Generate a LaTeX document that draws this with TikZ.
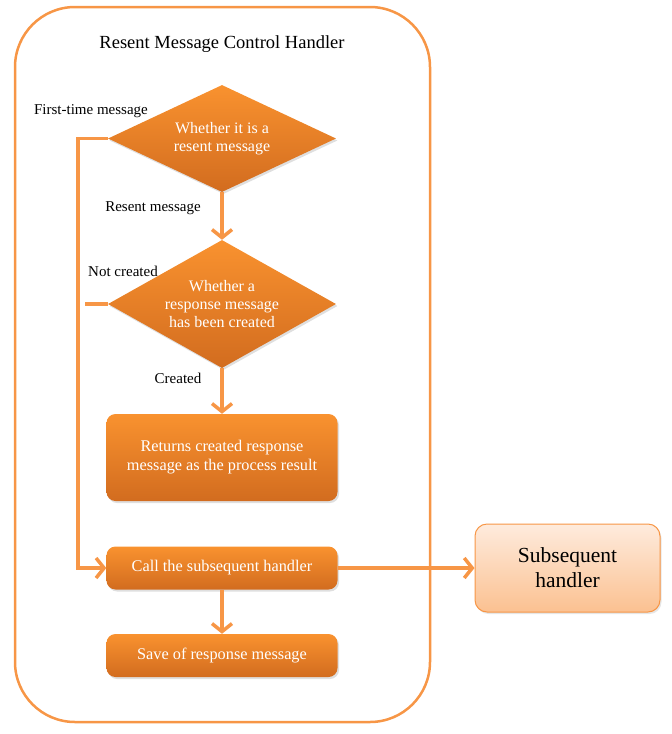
\documentclass[tikz,border=0pt]{standalone}
\usepackage{fontspec}
\setmainfont{Liberation Serif}
\usetikzlibrary{shapes.geometric,arrows.meta,shadows}
\definecolor{otop}{HTML}{F9922F}
\definecolor{obot}{HTML}{D26C1F}
\definecolor{oline}{HTML}{F79646}
\definecolor{ltop}{HTML}{FEEBDD}
\definecolor{lbot}{HTML}{FBC191}
\begin{document}
\begin{tikzpicture}[x=1pt,y=-1pt,
  procbox/.style={rectangle,rounded corners=9pt,top color=otop,bottom color=obot,draw=none,
    text=white,font=\fontsize{16.3}{19}\selectfont,align=center,inner sep=0pt,
    drop shadow={opacity=0.25,shadow xshift=1.5pt,shadow yshift=-2pt}},
  decide/.style={diamond,top color=otop,bottom color=obot,draw=none,text=white,
    font=\fontsize{16}{18}\selectfont,align=center,inner sep=0pt,
    drop shadow={opacity=0.25,shadow xshift=1.5pt,shadow yshift=-2pt}},
  flow/.style={draw=oline,line width=3.5pt},
  arr/.style={flow,-{Straight Barb[length=8pt,width=20pt,line width=3.5pt]}},
  lbl/.style={font=\fontsize{15}{17}\selectfont,inner sep=0pt}
]
\useasboundingbox (0,0) rectangle (672,734);
\node[draw=oline,line width=2.5pt,rounded corners=60pt,minimum width=415pt,minimum height=715pt] (frame) at (222.5,364.5) {};
\node[font=\fontsize{18.5}{21}\selectfont] (title) at (222,44) {Resent Message Control Handler};

\node[decide,minimum width=228pt,minimum height=107pt,aspect=2.13] (d1) at (222,138.5) {Whether it is a\\resent message};
\node[decide,minimum width=228pt,minimum height=128pt,aspect=1.78] (d2) at (222,304) {Whether a\\response message\\has been created};
\node[procbox,minimum width=231pt,minimum height=87pt] (b1) at (222,457.5) {Returns created response\\message as the process result};
\node[procbox,minimum width=231pt,minimum height=43pt] (b2) at (222,568) {Call the subsequent handler};
\node[procbox,minimum width=231pt,minimum height=43pt] (b3) at (222,655.5) {Save of response message};
\node[rectangle,rounded corners=12pt,top color=ltop,bottom color=lbot,draw=oline,line width=1pt,
  minimum width=185pt,minimum height=88pt,align=center,font=\fontsize{21.5}{25}\selectfont,
  drop shadow={opacity=0.2,shadow xshift=1.5pt,shadow yshift=-2pt}] (sh) at (567.5,568) {Subsequent\\handler};

\node[lbl] (l1) at (91,111) {First-time message};
\node[lbl] (l2) at (153,208) {Resent message};
\node[lbl] (l3) at (123,271) {Not created};
\node[lbl] (l4) at (178,378) {Created};

\coordinate (stub) at (85,304);
\draw[arr] (d1.west) -- (78,138.5) -- (78,568) -- (b2.west);
\draw[flow] (d2.west) -- (stub);
\draw[arr] (d1.south) -- (d2.north);
\draw[arr] (d2.south) -- (b1.north);
\draw[arr] (b2.south) -- (b3.north);
\draw[arr] (b2.east) -- (sh.west);
\end{tikzpicture}
\end{document}
